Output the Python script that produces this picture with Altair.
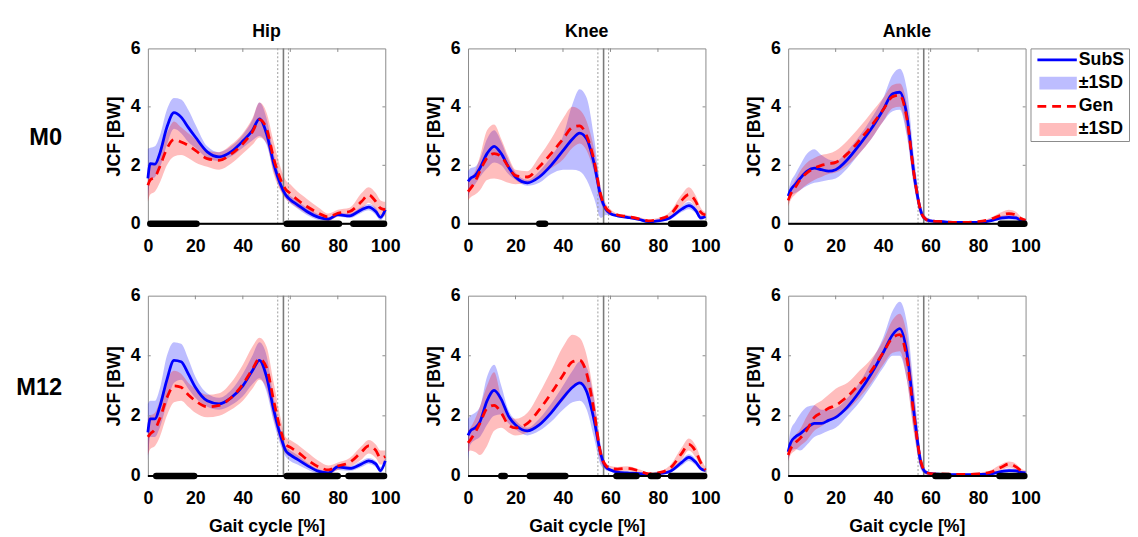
import altair as alt
import pandas as pd

FONT = "Liberation Sans"

GAIT = [0, 1, 3, 5, 8, 11, 14, 17, 20, 25, 30, 35, 40, 44, 47, 50, 53, 56, 58, 60,
        63, 67, 72, 76, 80, 85, 90, 93, 96, 98, 100]

# ---------------- Hip M0 ----------------
HIP_M0_SUBS_MEAN = [1.55, 2.06, 2.04, 2.4, 3.3, 3.8, 3.65, 3.3, 2.97, 2.46, 2.29, 2.46, 2.83, 3.19, 3.59, 3.08, 2.06, 1.32, 0.99, 0.82, 0.65, 0.42, 0.22, 0.16, 0.31, 0.27, 0.48, 0.57, 0.42, 0.22, 0.48]
HIP_M0_SUBS_LO = [0.8, 1.5, 1.6, 1.9, 2.7, 3.25, 3.1, 2.8, 2.6, 2.25, 2.15, 2.3, 2.6, 2.85, 3.0, 2.7, 1.8, 1.15, 0.88, 0.7, 0.52, 0.3, 0.13, 0.1, 0.24, 0.2, 0.38, 0.46, 0.3, 0.12, 0.36]
HIP_M0_SUBS_HI = [2.57, 2.6, 2.65, 3.0, 3.9, 4.3, 4.25, 3.9, 3.4, 2.65, 2.45, 2.65, 3.05, 3.55, 4.15, 3.6, 2.4, 1.5, 1.1, 0.95, 0.78, 0.55, 0.32, 0.22, 0.38, 0.35, 0.58, 0.68, 0.55, 0.32, 0.6]
HIP_M0_GEN_MEAN = [1.32, 1.5, 1.6, 1.95, 2.57, 2.88, 2.8, 2.68, 2.51, 2.23, 2.17, 2.38, 2.74, 3.14, 3.56, 3.25, 2.23, 1.5, 1.18, 1.04, 0.82, 0.59, 0.36, 0.23, 0.36, 0.42, 0.76, 0.99, 0.76, 0.53, 0.48]
HIP_M0_GEN_LO = [0.75, 1.0, 1.1, 1.4, 2.0, 2.3, 2.35, 2.25, 2.1, 1.95, 1.85, 2.05, 2.4, 2.7, 2.95, 2.75, 1.7, 1.1, 0.85, 0.72, 0.55, 0.35, 0.18, 0.1, 0.25, 0.3, 0.5, 0.72, 0.5, 0.3, 0.25]
HIP_M0_GEN_HI = [1.9, 2.05, 2.1, 2.5, 3.1, 3.5, 3.3, 3.1, 2.9, 2.5, 2.45, 2.7, 3.1, 3.6, 4.15, 3.8, 2.8, 1.9, 1.5, 1.35, 1.1, 0.85, 0.55, 0.35, 0.48, 0.55, 1.05, 1.25, 1.05, 0.8, 0.75]
HIP_M0_SIG_START = [1, 58.5, 86.5]
HIP_M0_SIG_END = [20.5, 80.5, 99.5]

# ---------------- Knee M0 ----------------
KNEE_M0_SUBS_MEAN = [1.45, 1.55, 1.65, 1.9, 2.4, 2.65, 2.4, 1.95, 1.6, 1.4, 1.6, 2.0, 2.5, 2.9, 3.1, 2.9, 2.1, 0.9, 0.5, 0.35, 0.27, 0.22, 0.15, 0.07, 0.1, 0.2, 0.5, 0.62, 0.45, 0.2, 0.25]
KNEE_M0_SUBS_LO = [0.9, 1.15, 1.35, 1.6, 1.9, 2.1, 2.0, 1.7, 1.5, 1.3, 1.4, 1.7, 1.85, 1.85, 1.8, 1.5, 0.9, 0.2, 0.3, 0.28, 0.22, 0.17, 0.1, 0.03, 0.06, 0.14, 0.4, 0.5, 0.35, 0.12, 0.2]
KNEE_M0_SUBS_HI = [1.8, 1.9, 1.95, 2.2, 2.9, 3.2, 2.8, 2.2, 1.75, 1.5, 1.8, 2.3, 3.0, 4.1, 4.6, 4.3, 3.0, 1.2, 0.6, 0.4, 0.32, 0.27, 0.2, 0.12, 0.15, 0.26, 0.6, 0.75, 0.55, 0.28, 0.3]
KNEE_M0_GEN_MEAN = [1.1, 1.2, 1.45, 1.8, 2.25, 2.4, 2.3, 1.95, 1.65, 1.6, 1.95, 2.4, 2.9, 3.3, 3.35, 3.0, 2.2, 0.95, 0.55, 0.4, 0.3, 0.25, 0.17, 0.1, 0.15, 0.3, 0.8, 1.0, 0.75, 0.4, 0.3]
KNEE_M0_GEN_LO = [0.8, 0.9, 1.0, 1.15, 1.5, 1.55, 1.5, 1.4, 1.35, 1.4, 1.6, 1.9, 2.2, 2.6, 2.75, 2.5, 1.8, 0.7, 0.4, 0.3, 0.25, 0.2, 0.12, 0.05, 0.1, 0.2, 0.6, 0.8, 0.55, 0.25, 0.2]
KNEE_M0_GEN_HI = [1.5, 1.6, 1.8, 2.3, 3.2, 3.4, 2.9, 2.3, 1.85, 1.8, 2.3, 2.9, 3.6, 4.0, 3.9, 3.5, 2.6, 1.2, 0.7, 0.5, 0.35, 0.3, 0.22, 0.15, 0.2, 0.4, 1.0, 1.25, 0.95, 0.55, 0.4]
KNEE_M0_SIG_START = [30, 85.5]
KNEE_M0_SIG_END = [32.5, 99.5]

# ---------------- Ankle M0 ----------------
ANKLE_M0_SUBS_MEAN = [0.95, 1.15, 1.35, 1.55, 1.8, 1.9, 1.85, 1.8, 1.85, 2.2, 2.7, 3.25, 3.9, 4.45, 4.5, 3.7, 1.7, 0.4, 0.15, 0.1, 0.08, 0.06, 0.05, 0.05, 0.05, 0.1, 0.2, 0.22, 0.2, 0.12, 0.1]
ANKLE_M0_SUBS_LO = [0.8, 0.95, 1.05, 1.15, 1.3, 1.4, 1.45, 1.5, 1.55, 1.9, 2.4, 2.9, 3.5, 3.85, 3.9, 3.0, 1.3, 0.25, 0.08, 0.05, 0.05, 0.04, 0.03, 0.03, 0.03, 0.06, 0.13, 0.15, 0.13, 0.06, 0.05]
ANKLE_M0_SUBS_HI = [1.1, 1.4, 1.7, 2.0, 2.4, 2.55, 2.35, 2.2, 2.15, 2.5, 3.0, 3.6, 4.3, 5.1, 5.3, 4.6, 2.3, 0.6, 0.25, 0.15, 0.1, 0.08, 0.07, 0.07, 0.07, 0.14, 0.27, 0.3, 0.27, 0.18, 0.15]
ANKLE_M0_GEN_MEAN = [0.8, 1.0, 1.25, 1.5, 1.75, 1.9, 2.0, 2.05, 2.1, 2.4, 2.85, 3.35, 3.9, 4.35, 4.4, 3.6, 1.7, 0.4, 0.15, 0.1, 0.08, 0.06, 0.05, 0.05, 0.07, 0.15, 0.3, 0.35, 0.3, 0.18, 0.12]
ANKLE_M0_GEN_LO = [0.6, 0.8, 1.0, 1.15, 1.35, 1.5, 1.6, 1.7, 1.75, 2.0, 2.4, 2.9, 3.5, 3.95, 4.0, 3.1, 1.3, 0.25, 0.08, 0.05, 0.05, 0.04, 0.03, 0.03, 0.04, 0.1, 0.2, 0.25, 0.2, 0.1, 0.07]
ANKLE_M0_GEN_HI = [1.0, 1.2, 1.5, 1.8, 2.1, 2.25, 2.35, 2.4, 2.5, 2.85, 3.3, 3.8, 4.3, 4.75, 4.8, 4.1, 2.1, 0.6, 0.25, 0.15, 0.1, 0.08, 0.07, 0.07, 0.1, 0.2, 0.4, 0.48, 0.4, 0.25, 0.18]
ANKLE_M0_SIG_START = [89.5]
ANKLE_M0_SIG_END = [99.5]

# ---------------- Hip M12 ----------------
HIP_M12_SUBS_MEAN = [1.45, 1.9, 1.9, 2.3, 3.2, 3.85, 3.8, 3.4, 2.95, 2.5, 2.4, 2.6, 3.0, 3.5, 3.85, 3.3, 2.2, 1.3, 0.85, 0.7, 0.55, 0.35, 0.15, 0.1, 0.3, 0.25, 0.4, 0.5, 0.4, 0.18, 0.5]
HIP_M12_SUBS_LO = [0.5, 1.3, 1.3, 1.6, 2.4, 3.1, 3.2, 2.9, 2.6, 2.3, 2.2, 2.35, 2.65, 3.05, 3.25, 2.8, 1.8, 1.0, 0.65, 0.5, 0.38, 0.22, 0.07, 0.05, 0.2, 0.17, 0.3, 0.4, 0.3, 0.1, 0.4]
HIP_M12_SUBS_HI = [2.4, 2.5, 2.5, 2.9, 4.0, 4.45, 4.4, 3.9, 3.3, 2.75, 2.6, 2.85, 3.4, 4.0, 4.45, 4.0, 2.6, 1.5, 1.0, 0.85, 0.7, 0.45, 0.22, 0.15, 0.38, 0.33, 0.5, 0.6, 0.5, 0.3, 0.6]
HIP_M12_GEN_MEAN = [1.3, 1.4, 1.55, 1.9, 2.6, 3.0, 2.95, 2.7, 2.5, 2.3, 2.35, 2.6, 3.05, 3.55, 3.9, 3.6, 2.5, 1.5, 1.05, 0.95, 0.8, 0.55, 0.3, 0.2, 0.33, 0.45, 0.8, 1.0, 0.85, 0.6, 0.65]
HIP_M12_GEN_LO = [0.7, 0.9, 1.0, 1.3, 2.0, 2.45, 2.5, 2.3, 2.1, 1.95, 2.0, 2.2, 2.5, 2.9, 3.2, 2.9, 1.9, 1.1, 0.75, 0.65, 0.55, 0.32, 0.12, 0.07, 0.2, 0.3, 0.55, 0.75, 0.6, 0.38, 0.45]
HIP_M12_GEN_HI = [1.9, 2.0, 2.1, 2.5, 3.2, 3.5, 3.4, 3.1, 2.9, 2.7, 2.75, 3.1, 3.7, 4.3, 4.6, 4.3, 3.1, 1.9, 1.3, 1.2, 1.05, 0.8, 0.5, 0.35, 0.45, 0.6, 1.0, 1.2, 1.05, 0.85, 0.85]
HIP_M12_SIG_START = [3.5, 58.5, 84.5]
HIP_M12_SIG_END = [19.5, 80, 99.5]

# ---------------- Knee M12 ----------------
KNEE_M12_SUBS_MEAN = [1.35, 1.5, 1.6, 1.8, 2.5, 2.85, 2.55, 2.0, 1.7, 1.5, 1.7, 2.1, 2.6, 2.95, 3.1, 2.8, 1.9, 0.7, 0.3, 0.2, 0.13, 0.1, 0.08, 0.05, 0.07, 0.15, 0.45, 0.62, 0.45, 0.25, 0.18]
KNEE_M12_SUBS_LO = [0.5, 1.05, 1.2, 1.3, 1.7, 2.0, 2.05, 1.75, 1.55, 1.35, 1.5, 1.8, 2.2, 2.45, 2.5, 2.2, 1.3, 0.35, 0.2, 0.14, 0.08, 0.06, 0.04, 0.02, 0.03, 0.1, 0.35, 0.5, 0.35, 0.18, 0.12]
KNEE_M12_SUBS_HI = [1.9, 2.0, 2.1, 2.3, 3.3, 3.7, 3.0, 2.2, 1.85, 1.6, 1.9, 2.4, 3.0, 3.5, 3.8, 3.6, 2.6, 1.0, 0.4, 0.25, 0.18, 0.15, 0.12, 0.08, 0.1, 0.2, 0.55, 0.72, 0.55, 0.3, 0.22]
KNEE_M12_GEN_MEAN = [1.1, 1.2, 1.45, 1.75, 2.25, 2.35, 2.1, 1.7, 1.6, 1.75, 2.2, 2.75, 3.35, 3.8, 3.85, 3.4, 2.2, 0.7, 0.35, 0.25, 0.23, 0.25, 0.17, 0.07, 0.1, 0.25, 0.75, 1.05, 0.8, 0.45, 0.2]
KNEE_M12_GEN_LO = [0.8, 0.85, 0.8, 0.7, 1.0, 1.5, 1.6, 1.45, 1.35, 1.45, 1.7, 2.1, 2.5, 2.9, 3.1, 2.7, 1.7, 0.45, 0.25, 0.17, 0.15, 0.17, 0.1, 0.03, 0.05, 0.15, 0.55, 0.85, 0.6, 0.3, 0.1]
KNEE_M12_GEN_HI = [1.5, 1.6, 1.9, 2.3, 3.0, 3.45, 2.6, 2.0, 1.9, 2.1, 2.75, 3.5, 4.3, 4.7, 4.6, 4.0, 2.7, 0.95, 0.45, 0.33, 0.3, 0.32, 0.22, 0.12, 0.15, 0.35, 0.95, 1.25, 1.0, 0.6, 0.3]
KNEE_M12_SIG_START = [14, 26, 62.5, 77, 85.5]
KNEE_M12_SIG_END = [15.5, 41, 71, 80, 99.5]

# ---------------- Ankle M12 ----------------
ANKLE_M12_SUBS_MEAN = [0.8, 1.1, 1.3, 1.4, 1.6, 1.75, 1.75, 1.85, 1.95, 2.3, 2.8, 3.4, 4.1, 4.7, 4.9, 4.1, 2.1, 0.4, 0.12, 0.08, 0.06, 0.05, 0.04, 0.04, 0.05, 0.07, 0.15, 0.18, 0.17, 0.12, 0.1]
ANKLE_M12_SUBS_LO = [0.5, 0.8, 0.9, 0.85, 1.05, 1.3, 1.4, 1.5, 1.6, 2.0, 2.45, 3.0, 3.6, 4.0, 4.0, 3.2, 1.5, 0.2, 0.05, 0.04, 0.03, 0.03, 0.02, 0.02, 0.03, 0.04, 0.1, 0.12, 0.11, 0.07, 0.05]
ANKLE_M12_SUBS_HI = [1.0, 1.5, 1.8, 2.05, 2.3, 2.35, 2.2, 2.2, 2.25, 2.6, 3.1, 3.8, 4.6, 5.5, 5.8, 5.1, 2.9, 0.7, 0.2, 0.12, 0.1, 0.08, 0.07, 0.07, 0.08, 0.1, 0.2, 0.25, 0.23, 0.18, 0.15]
ANKLE_M12_GEN_MEAN = [0.7, 0.9, 1.1, 1.25, 1.55, 1.95, 2.1, 2.25, 2.35, 2.65, 3.05, 3.5, 4.1, 4.6, 4.7, 3.9, 2.0, 0.45, 0.12, 0.08, 0.07, 0.06, 0.05, 0.05, 0.07, 0.12, 0.3, 0.4, 0.3, 0.18, 0.12]
ANKLE_M12_GEN_LO = [0.5, 0.7, 0.85, 1.0, 1.2, 1.5, 1.65, 1.8, 1.95, 2.2, 2.6, 3.1, 3.7, 4.1, 4.15, 3.2, 1.4, 0.25, 0.05, 0.04, 0.04, 0.03, 0.03, 0.03, 0.05, 0.07, 0.2, 0.28, 0.2, 0.1, 0.07]
ANKLE_M12_GEN_HI = [0.9, 1.1, 1.35, 1.55, 2.0, 2.35, 2.5, 2.7, 2.9, 3.1, 3.5, 3.9, 4.5, 5.2, 5.4, 4.7, 2.7, 0.7, 0.2, 0.12, 0.1, 0.09, 0.07, 0.07, 0.1, 0.18, 0.4, 0.48, 0.4, 0.25, 0.18]
ANKLE_M12_SIG_START = [62, 89]
ANKLE_M12_SIG_END = [67.5, 99.5]

# toe-off markers (mean and +/- SD)
TOE_OFF_SD = [54.7, 59.2]
TOE_OFF_MEAN = [57.1]

X_TICKS = [0, 20, 40, 60, 80, 100]
Y_TICKS = [0, 2, 4, 6]
JOINTS = ["Hip", "Knee", "Ankle"]
ROWS = ["M0", "M12"]
LEGEND_LABELS = ["SubS", "\u00b11SD", "Gen", "\u00b11SD"]

BLUE = "#0000ff"
RED = "#ff0000"
FRAME = "#8a8a8a"
FS = 18

PANEL_W = 241
ROW_H = [178, 183]

DATA = {
    ("Hip", "M0"): (HIP_M0_SUBS_MEAN, HIP_M0_SUBS_LO, HIP_M0_SUBS_HI, HIP_M0_GEN_MEAN, HIP_M0_GEN_LO, HIP_M0_GEN_HI, HIP_M0_SIG_START, HIP_M0_SIG_END),
    ("Knee", "M0"): (KNEE_M0_SUBS_MEAN, KNEE_M0_SUBS_LO, KNEE_M0_SUBS_HI, KNEE_M0_GEN_MEAN, KNEE_M0_GEN_LO, KNEE_M0_GEN_HI, KNEE_M0_SIG_START, KNEE_M0_SIG_END),
    ("Ankle", "M0"): (ANKLE_M0_SUBS_MEAN, ANKLE_M0_SUBS_LO, ANKLE_M0_SUBS_HI, ANKLE_M0_GEN_MEAN, ANKLE_M0_GEN_LO, ANKLE_M0_GEN_HI, ANKLE_M0_SIG_START, ANKLE_M0_SIG_END),
    ("Hip", "M12"): (HIP_M12_SUBS_MEAN, HIP_M12_SUBS_LO, HIP_M12_SUBS_HI, HIP_M12_GEN_MEAN, HIP_M12_GEN_LO, HIP_M12_GEN_HI, HIP_M12_SIG_START, HIP_M12_SIG_END),
    ("Knee", "M12"): (KNEE_M12_SUBS_MEAN, KNEE_M12_SUBS_LO, KNEE_M12_SUBS_HI, KNEE_M12_GEN_MEAN, KNEE_M12_GEN_LO, KNEE_M12_GEN_HI, KNEE_M12_SIG_START, KNEE_M12_SIG_END),
    ("Ankle", "M12"): (ANKLE_M12_SUBS_MEAN, ANKLE_M12_SUBS_LO, ANKLE_M12_SUBS_HI, ANKLE_M12_GEN_MEAN, ANKLE_M12_GEN_LO, ANKLE_M12_GEN_HI, ANKLE_M12_SIG_START, ANKLE_M12_SIG_END),
}


def panel(joint, row, height, show_title, show_xtitle):
    sm, slo, shi, gm, glo, ghi, s0, s1 = DATA[(joint, row)]
    df = pd.DataFrame({"x": GAIT, "sm": sm, "slo": slo, "shi": shi,
                       "gm": gm, "glo": glo, "ghi": ghi})
    xs = alt.Scale(domain=[0, 100], nice=False)
    ys = alt.Scale(domain=[0, 6], nice=False)
    xaxis = alt.Axis(values=X_TICKS, title="Gait cycle [%]" if show_xtitle else None,
                     labelPadding=14, titlePadding=10, labelFlush=False)
    yaxis = alt.Axis(values=Y_TICKS, title="JCF [BW]", labelPadding=8, titlePadding=7,
                     labelFlush=False)

    def X(f):
        return alt.X(f, scale=xs, axis=xaxis)

    def Y(f):
        return alt.Y(f, scale=ys, axis=yaxis)

    base = alt.Chart(df)
    sband = base.mark_area(color=BLUE, opacity=0.26, interpolate="monotone").encode(
        x=X("x:Q"), y=Y("slo:Q"), y2="shi:Q")
    gband = base.mark_area(color=RED, opacity=0.26, interpolate="monotone").encode(
        x=X("x:Q"), y=Y("glo:Q"), y2="ghi:Q")
    sline = base.mark_line(color=BLUE, strokeWidth=2.8, interpolate="monotone").encode(
        x=X("x:Q"), y=Y("sm:Q"))
    gline = base.mark_line(color=RED, strokeWidth=2.8, strokeDash=[9, 6],
                           interpolate="monotone").encode(x=X("x:Q"), y=Y("gm:Q"))

    sd_df = pd.DataFrame({"t": TOE_OFF_SD})
    mean_df = pd.DataFrame({"t": TOE_OFF_MEAN})
    sd_rule = alt.Chart(sd_df).mark_rule(color="#9a9a9a", strokeWidth=1, strokeDash=[2, 2]).encode(
        x=X("t:Q"))
    mean_rule = alt.Chart(mean_df).mark_rule(color="#7a7a7a", strokeWidth=1.6).encode(x=X("t:Q"))

    # inward tick marks of the box
    xt = pd.DataFrame({"t": X_TICKS[1:-1], "a": [6] * 4, "b": [5.88] * 4})
    yt = pd.DataFrame({"t": Y_TICKS[1:-1], "a": [0] * 2, "b": [1.2] * 2, "c": [100] * 2, "d": [98.8] * 2})
    top_ticks = alt.Chart(xt).mark_rule(color=FRAME, strokeWidth=1).encode(
        x=X("t:Q"), y=Y("a:Q"), y2="b:Q")
    left_ticks = alt.Chart(yt).mark_rule(color=FRAME, strokeWidth=1).encode(
        y=Y("t:Q"), x=X("a:Q"), x2="b:Q")
    right_ticks = alt.Chart(yt).mark_rule(color=FRAME, strokeWidth=1).encode(
        y=Y("t:Q"), x=X("c:Q"), x2="d:Q")

    zero_df = pd.DataFrame({"s": [0], "e": [100], "z": [0]})
    zero = alt.Chart(zero_df).mark_rule(color="black", strokeWidth=2).encode(
        x=X("s:Q"), x2="e:Q", y=Y("z:Q"))
    sig_df = pd.DataFrame({"s": s0, "e": s1, "z": [0] * len(s0)})
    sig = alt.Chart(sig_df).mark_rule(color="black", strokeWidth=6.5, strokeCap="round").encode(
        x=X("s:Q"), x2="e:Q", y=Y("z:Q"))

    layers = [sband, gband, sd_rule, mean_rule, top_ticks, left_ticks, right_ticks,
              sline, gline, zero, sig]
    if show_title:
        title = alt.Chart(pd.DataFrame({"t": [joint]})).mark_text(
            font=FONT, fontSize=FS, fontWeight="bold", align="center", baseline="alphabetic",
            color="black").encode(text="t:N", x=alt.value(PANEL_W / 2), y=alt.value(-12))
        layers.append(title)
    return alt.layer(*layers).properties(width=PANEL_W, height=height)


def row_label(text, height):
    return alt.Chart(pd.DataFrame({"t": [text]})).mark_text(
        font=FONT, fontSize=24, fontWeight="bold", align="right", baseline="middle",
        color="black").encode(
        text="t:N", x=alt.value(51), y=alt.value(height / 2 + 2)).properties(
        width=133, height=height, view=alt.ViewBackground(stroke="transparent"))


def spacer(height):
    return alt.Chart(pd.DataFrame({"t": [""]})).mark_text().encode(text="t:N").properties(
        width=74, height=height, view=alt.ViewBackground(stroke="transparent"))


def legend_chart():
    rows = [0.5, 1.5, 2.5, 3.5]
    ldf = pd.DataFrame({"row": rows, "label": LEGEND_LABELS,
                        "lo": [r - 0.28 for r in rows], "hi": [r + 0.28 for r in rows],
                        "x0": [7] * 4, "x1": [47] * 4, "r0": [9] * 4, "tx": [49] * 4})
    lx = alt.Scale(domain=[0, 100], nice=False)
    ly = alt.Scale(domain=[0, 4], reverse=True, nice=False)
    base = alt.Chart(ldf)
    blue_line = base.transform_filter(alt.datum.row == 0.5).mark_rule(
        color=BLUE, strokeWidth=2.8).encode(
        x=alt.X("x0:Q", scale=lx, axis=None), x2="x1:Q", y=alt.Y("row:Q", scale=ly, axis=None))
    blue_rect = base.transform_filter(alt.datum.row == 1.5).mark_rect(
        color=BLUE, opacity=0.26).encode(
        x=alt.X("r0:Q", scale=lx, axis=None), x2="x1:Q",
        y=alt.Y("lo:Q", scale=ly, axis=None), y2="hi:Q")
    red_line = base.transform_filter(alt.datum.row == 2.5).mark_rule(
        color=RED, strokeWidth=2.8, strokeDash=[9, 6]).encode(
        x=alt.X("x0:Q", scale=lx, axis=None), x2="x1:Q", y=alt.Y("row:Q", scale=ly, axis=None))
    red_rect = base.transform_filter(alt.datum.row == 3.5).mark_rect(
        color=RED, opacity=0.26).encode(
        x=alt.X("r0:Q", scale=lx, axis=None), x2="x1:Q",
        y=alt.Y("lo:Q", scale=ly, axis=None), y2="hi:Q")
    labels = base.mark_text(font=FONT, fontSize=FS, fontWeight="bold", align="left",
                            baseline="middle", color="black").encode(
        x=alt.X("tx:Q", scale=lx, axis=None), y=alt.Y("row:Q", scale=ly, axis=None),
        text="label:N")
    return alt.layer(blue_line, blue_rect, red_line, red_rect, labels).properties(
        width=100, height=94, view=alt.ViewBackground(stroke=FRAME, strokeWidth=1))


items = []
for ri, row in enumerate(ROWS):
    h = ROW_H[ri]
    items.append(row_label(row, h))
    for ji, joint in enumerate(JOINTS):
        items.append(panel(joint, row, h, show_title=(ri == 0), show_xtitle=(ri == 1)))
        if ji < 2:
            items.append(spacer(h))
    if ri == 0:
        items.append(legend_chart())

chart = alt.concat(*items, columns=7, spacing={"row": 73, "column": 5}, bounds="flush").properties(
    padding={"top": 10, "left": 3, "right": 0, "bottom": 0}
).configure_view(stroke=FRAME, strokeWidth=1).configure_axis(
    grid=False, ticks=False, domain=False,
    labelFont=FONT, labelFontSize=FS, labelFontWeight="bold", labelColor="black",
    titleFont=FONT, titleFontSize=FS, titleFontWeight="bold", titleColor="black",
)

chart.save("out.html", embed_options={"renderer": "svg", "actions": False})
